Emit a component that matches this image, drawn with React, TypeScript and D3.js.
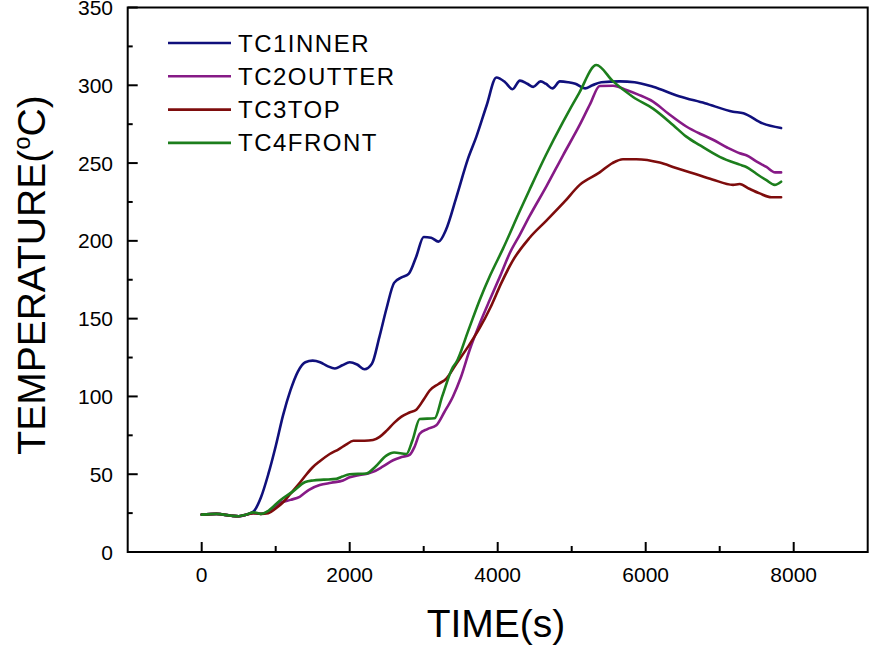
import React from 'react';
import * as d3 from 'd3';

// readings, [time (s), temperature (°C)]
const tc1Inner: [number, number][] = [
  [0, 24], [200, 24.5], [400, 23.3], [500, 23], [600, 24], [700, 26], [800, 35], [900, 50],
  [1000, 68], [1100, 88], [1200, 104], [1300, 116], [1400, 122], [1500, 123], [1600, 122],
  [1700, 119.5], [1800, 118], [1900, 120], [2000, 122], [2100, 120.5], [2200, 117.5], [2300, 121],
  [2400, 138], [2500, 157], [2600, 173], [2700, 176.5], [2800, 179], [2900, 190], [3000, 202.5],
  [3100, 202], [3200, 199.5], [3300, 207], [3441, 228], [3600, 253], [3712, 267], [3850, 287],
  [3982, 305], [4100, 302], [4200, 297.5], [4300, 303], [4400, 301], [4480, 299], [4580, 302.5],
  [4650, 301], [4740, 298], [4840, 302.5], [4950, 302], [5050, 301], [5180, 298], [5280, 300],
  [5400, 302], [5650, 302.5], [5850, 302], [6100, 299], [6450, 293], [6800, 288.5], [7180, 283],
  [7320, 282], [7580, 275.5], [7830, 272.5],
];

const tc2Outter: [number, number][] = [
  [0, 24], [200, 24.5], [400, 23.3], [500, 23], [600, 24], [700, 25], [800, 24.5], [900, 26],
  [1054, 31.5], [1200, 33.5], [1324, 35.5], [1450, 40], [1595, 43], [1750, 44.5], [1910, 46],
  [2000, 48], [2135, 49.5], [2250, 50.5], [2315, 51.5], [2450, 55], [2586, 59], [2700, 61],
  [2811, 62.5], [2880, 68], [2946, 76], [3050, 79], [3171, 81.5], [3280, 90], [3396, 100],
  [3500, 112], [3622, 130], [3750, 146], [3892, 162], [4030, 177], [4162, 192], [4300, 204],
  [4432, 216], [4658, 235], [4883, 255], [5108, 274.5], [5250, 288], [5378, 299.5], [5559, 299.7],
  [5739, 297], [5900, 294], [6099, 289.5], [6300, 282], [6549, 273.5], [6750, 268.5], [6910, 265],
  [7100, 260], [7270, 256.3], [7360, 255], [7500, 251], [7631, 247.5], [7750, 244], [7830, 244],
];

const tc3Top: [number, number][] = [
  [0, 24], [200, 24.5], [400, 23.3], [500, 23], [600, 24], [700, 25], [800, 24.5], [900, 25],
  [1000, 28], [1100, 32], [1200, 37.5], [1300, 43], [1400, 49], [1500, 54.5], [1600, 58.5],
  [1730, 63], [1850, 66], [1950, 69], [2050, 71.5], [2200, 71.5], [2315, 72], [2405, 74],
  [2500, 78], [2600, 83], [2700, 87], [2800, 89.5], [2900, 91.5], [3000, 98], [3081, 103.8],
  [3200, 108], [3306, 111.5], [3441, 121], [3600, 132], [3757, 144], [3900, 157], [4050, 173],
  [4200, 187], [4432, 202], [4658, 213], [4900, 225], [5108, 236], [5378, 244], [5550, 250],
  [5693, 252.5], [5874, 252.5], [6189, 250.3], [6400, 247], [6639, 243.5], [6900, 239.5],
  [7180, 236], [7270, 236.5], [7400, 233.5], [7541, 230.5], [7700, 228], [7830, 228],
];

const tc4Front: [number, number][] = [
  [0, 24], [200, 24.5], [400, 23.3], [500, 23], [600, 24], [700, 25.5], [800, 24.5], [900, 26.5],
  [1054, 33], [1234, 39], [1400, 45], [1504, 46], [1650, 46.5], [1820, 47], [1900, 48.5],
  [2000, 50], [2225, 50.5], [2350, 55], [2495, 62], [2600, 64], [2766, 63], [2850, 72],
  [2946, 85.5], [3149, 86], [3250, 100], [3396, 119], [3441, 122], [3600, 142], [3757, 162],
  [3900, 178], [4072, 195], [4297, 219], [4432, 233], [4650, 255], [4883, 276.5], [5100, 295],
  [5333, 313], [5559, 302.5], [5829, 292.5], [6099, 285], [6369, 274.5], [6549, 267], [6730, 261.5],
  [7000, 254], [7270, 249], [7360, 247.5], [7500, 243], [7631, 239], [7743, 236], [7830, 238],
];

const seriesNames = ['TC1INNER', 'TC2OUTTER', 'TC3TOP', 'TC4FRONT'];
const seriesData = [tc1Inner, tc2Outter, tc3Top, tc4Front];
const seriesColors = ['#10107c', '#861a86', '#7e0c0c', '#1c7e1c'];

const xMajor = [0, 2000, 4000, 6000, 8000];
const xMinor = [1000, 3000, 5000, 7000];
const yMajor = [0, 50, 100, 150, 200, 250, 300, 350];
const yMinor = [25, 75, 125, 175, 225, 275, 325];

const font = "Arial, 'Liberation Sans', sans-serif";

const App = () => {
  const width = 875;
  const height = 646;
  const left = 127.7;
  const right = 867.7;
  const top = 7.5;
  const bottom = 552;

  const x = d3.scaleLinear().domain([-1000, 9000]).range([left, right]);
  const y = d3.scaleLinear().domain([0, 350]).range([bottom, top]);

  const line = d3
    .line<[number, number]>()
    .x(d => x(d[0]))
    .y(d => y(d[1]))
    .curve(d3.curveMonotoneX);

  return (
    <svg
      width={width}
      height={height}
      style={{ position: 'absolute', left: 0, top: 0, background: '#fff' }}
      fontFamily={font}
    >
      {/* lines */}
      {seriesData.map((s, i) => (
        <path key={seriesNames[i]} d={line(s) || ''} fill="none" stroke={seriesColors[i]}
          strokeWidth={2.6} strokeLinejoin="round" strokeLinecap="round" />
      ))}

      {/* frame */}
      <rect x={left} y={top} width={right - left} height={bottom - top}
        fill="none" stroke="#000" strokeWidth={2} />

      {/* x ticks */}
      {xMajor.map(t => (
        <g key={'xm' + t}>
          <line x1={x(t)} x2={x(t)} y1={bottom} y2={bottom - 10} stroke="#000" strokeWidth={2} />
          <text x={x(t)} y={582} textAnchor="middle" fontSize={21}>{t}</text>
        </g>
      ))}
      {xMinor.map(t => (
        <line key={'xn' + t} x1={x(t)} x2={x(t)} y1={bottom} y2={bottom - 6} stroke="#000" strokeWidth={2} />
      ))}

      {/* y ticks */}
      {yMajor.map(v => (
        <g key={'ym' + v}>
          <line x1={left} x2={left + 10} y1={y(v)} y2={y(v)} stroke="#000" strokeWidth={2} />
          <text x={113} y={y(v)} dy="0.36em" textAnchor="end" fontSize={21}>{v}</text>
        </g>
      ))}
      {yMinor.map(v => (
        <line key={'yn' + v} x1={left} x2={left + 5} y1={y(v)} y2={y(v)} stroke="#000" strokeWidth={2} />
      ))}

      {/* axis titles */}
      <text x={496} y={637} textAnchor="middle" fontSize={39}>TIME(s)</text>
      <text transform="translate(45,275) rotate(-90)" textAnchor="middle" fontSize={39}>
        TEMPERATURE(<tspan fontSize={24} dy={-15}>o</tspan><tspan dy={15}>C)</tspan>
      </text>

      {/* legend */}
      {seriesNames.map((n, i) => {
        const ly = 43 + i * 33.3;
        return (
          <g key={'lg' + n}>
            <line x1={168} x2={231} y1={ly} y2={ly} stroke={seriesColors[i]} strokeWidth={2.6} />
            <text x={238} y={ly + 8.5} fontSize={24} letterSpacing={1.5}>{n}</text>
          </g>
        );
      })}
    </svg>
  );
};

export default App;
